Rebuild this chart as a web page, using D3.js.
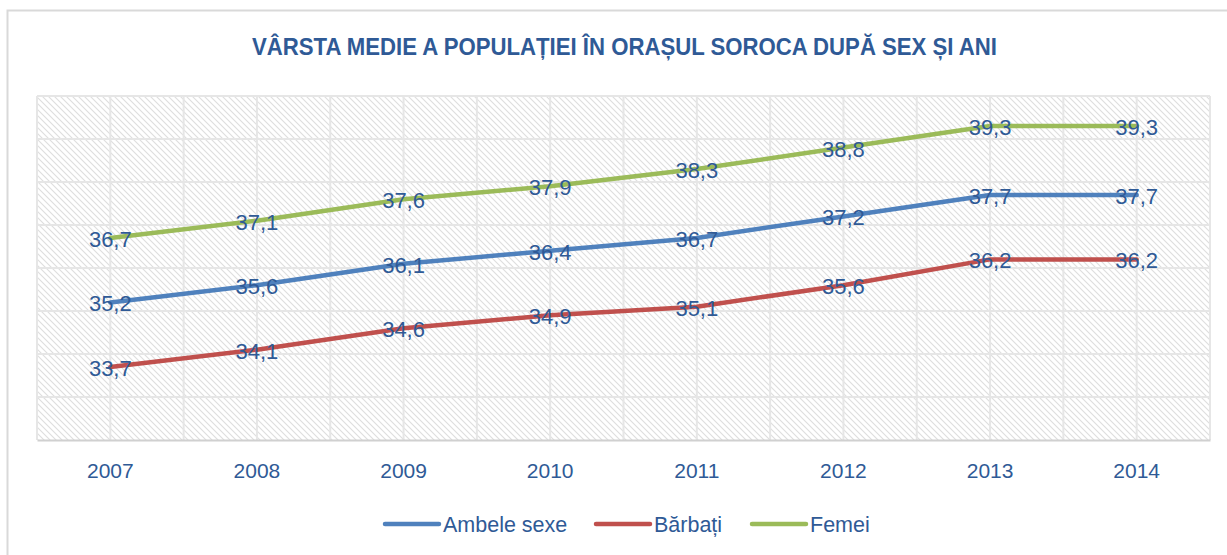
<!DOCTYPE html>
<html><head><meta charset="utf-8">
<script src="https://cdn.jsdelivr.net/npm/d3@7/dist/d3.min.js"></script>
<style>html,body{margin:0;padding:0;background:#fff;}svg{display:block;}</style>
</head><body>
<svg id="c" width="1227" height="555"></svg>
<script>
const years = ["2007","2008","2009","2010","2011","2012","2013","2014"];
const ambele = [35.2, 35.6, 36.1, 36.4, 36.7, 37.2, 37.7, 37.7];
const barbati = [33.7, 34.1, 34.6, 34.9, 35.1, 35.6, 36.2, 36.2];
const femei = [36.7, 37.1, 37.6, 37.9, 38.3, 38.8, 39.3, 39.3];
const seriesNames = ["Ambele sexe", "Bărbați", "Femei"];
const seriesColors = ["#4F81BD", "#C0504D", "#9BBB59"];
const yTicks = [32, 33, 34, 35, 36, 37, 38, 39, 40];
const title = "VÂRSTA MEDIE A POPULAȚIEI ÎN ORAȘUL SOROCA DUPĂ SEX ȘI ANI";

const series = [ambele, barbati, femei].map((v, i) => ({name: seriesNames[i], color: seriesColors[i], values: v}));
const textColor = "#2F5A96";
const font = "'Liberation Sans', Arial, sans-serif";

const svg = d3.select("#c");
const L = 37, R = 1210, T = 96, B = 440;

// chart border
svg.append("path").attr("d", `M7.5,555 V10.5 H1227`).attr("fill","none").attr("stroke","#d9d9d9").attr("stroke-width",2);

// pattern
const defs = svg.append("defs");
const pat = defs.append("pattern").attr("id","hatch").attr("patternUnits","userSpaceOnUse").attr("width",6).attr("height",6);
pat.append("rect").attr("width",6).attr("height",6).attr("fill","#fff");
pat.append("path").attr("d","M-1,-1 L7,7 M-1,5 L1,7 M5,-1 L7,1").attr("stroke","#dedede").attr("stroke-width",1.1);

const x = d3.scaleBand().domain(years).range([L, R]).paddingInner(0).paddingOuter(0);
const y = d3.scaleLinear().domain([32, 40]).range([B, T]);
const cx = d => x(d) + x.bandwidth()/2;

svg.append("rect").attr("x",L).attr("y",T).attr("width",R-L).attr("height",B-T).attr("fill","url(#hatch)");

// horizontal gridlines
svg.append("g").selectAll("line").data(yTicks.slice(1)).join("line")
  .attr("x1",L).attr("x2",R).attr("y1",d=>y(d)).attr("y2",d=>y(d))
  .attr("stroke","#e6e6e6").attr("stroke-width",2);
// vertical gridlines: boundaries and centers
const vlines = [];
years.forEach(yr => { vlines.push(x(yr)); vlines.push(cx(yr)); });
vlines.push(R);
svg.append("g").selectAll("line").data(vlines).join("line")
  .attr("x1",d=>d).attr("x2",d=>d).attr("y1",T).attr("y2",B)
  .attr("stroke","#e6e6e6").attr("stroke-width",2);

// x axis
const xAxis = svg.append("g").attr("transform",`translate(0,${B})`)
  .call(d3.axisBottom(x).tickSize(0).tickPadding(23));
xAxis.select(".domain").attr("stroke","#d0d0d0").attr("stroke-width",2);
xAxis.selectAll("text").attr("fill",textColor).attr("font-family",font).attr("font-size","21px");

// lines
const line = d3.line().x((d,i)=>cx(years[i])).y(d=>y(d));
svg.append("g").selectAll("path").data(series).join("path")
  .attr("d", s => line(s.values)).attr("fill","none")
  .attr("stroke", s => s.color).attr("stroke-width",4.5)
  .attr("stroke-linejoin","round").attr("stroke-linecap","round");

// labels
series.forEach(s => {
  svg.append("g").selectAll("text").data(s.values).join("text")
    .attr("x",(d,i)=>cx(years[i])).attr("y",d=>y(d)+9)
    .attr("text-anchor","middle").attr("fill",textColor)
    .attr("font-family",font).attr("font-size","22px")
    .text(d => d3.format(".1f")(d).replace(".", ","));
});

// title
svg.append("text").attr("x",624.5).attr("y",55).attr("text-anchor","middle")
  .attr("fill",textColor).attr("font-family",font).attr("font-weight","bold").attr("font-size","23px")
  .attr("textLength",745).attr("lengthAdjust","spacingAndGlyphs")
  .text(title);

// legend
const legX = [385, 596, 752];
const lg = svg.append("g").selectAll("g").data(series).join("g")
  .attr("transform",(d,i)=>`translate(${legX[i]},524)`);
lg.append("line").attr("x1",0).attr("x2",54).attr("stroke",d=>d.color).attr("stroke-width",4.5).attr("stroke-linecap","round");
lg.append("text").attr("x",58).attr("y",7.5).attr("fill",textColor).attr("font-family",font).attr("font-size","21.5px").text(d=>d.name);
</script>
</body></html>
